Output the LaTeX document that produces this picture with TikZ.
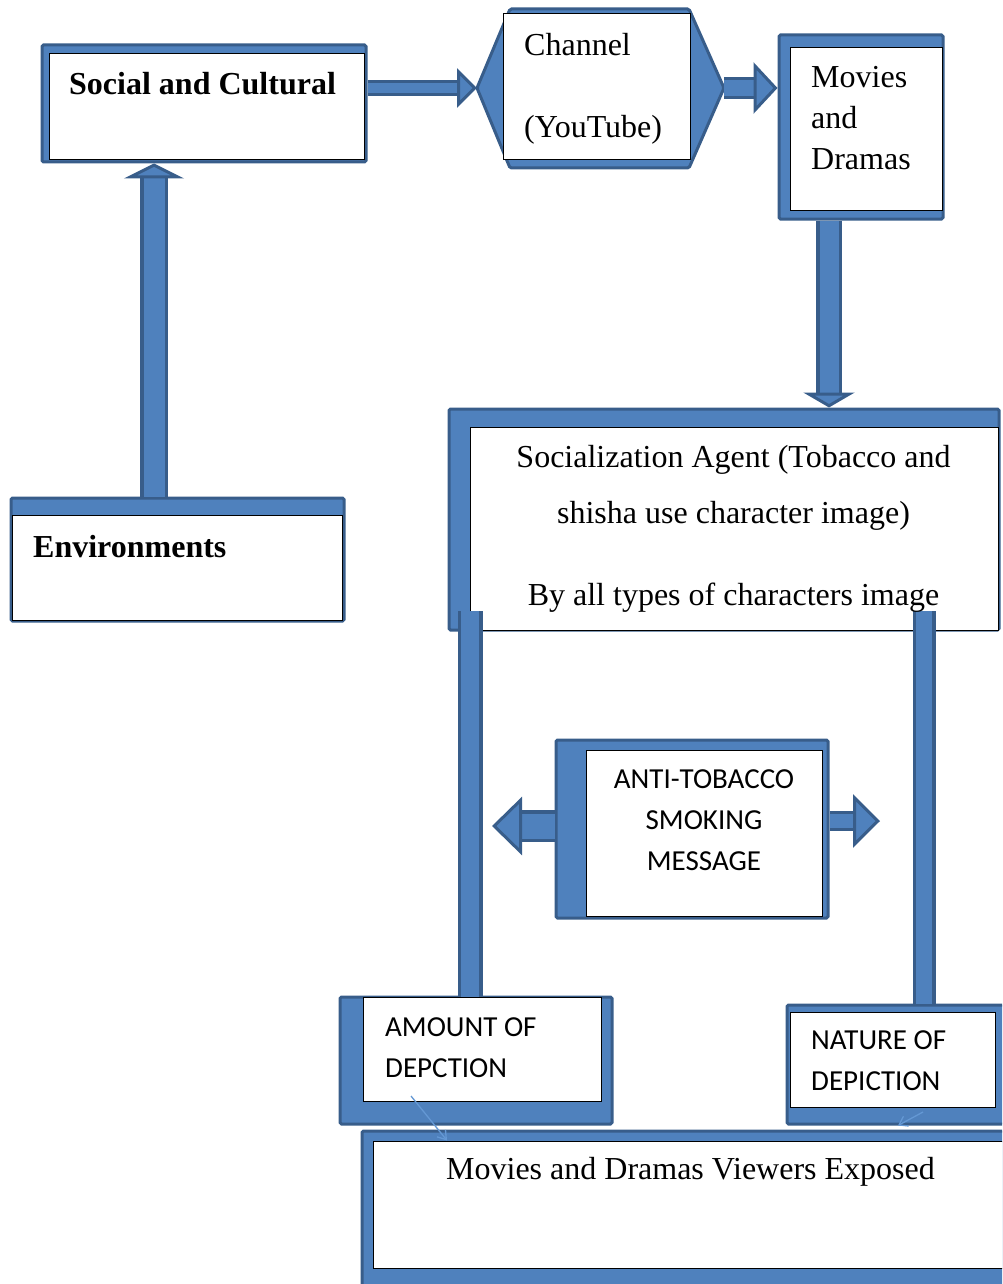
\documentclass[tikz,border=0pt]{standalone}
\usepackage{fontspec}
\setmainfont{Liberation Serif}
\newfontfamily\calibri{Carlito}
\usetikzlibrary{arrows.meta,positioning}
\definecolor{fillblue}{RGB}{79,129,189}
\definecolor{edgeblue}{RGB}{56,93,138}
\definecolor{lineblue}{RGB}{100,152,212}
\tikzset{
  panel/.style={draw=edgeblue,fill=fillblue,line width=3pt,rounded corners=1.5pt,inner sep=0pt},
  card/.style={draw=black,fill=white,line width=1pt,inner sep=0pt},
  txt/.style={inner sep=0pt,font=\fontsize{32}{41}\selectfont},
  sans/.style={inner sep=0pt,font=\calibri\fontsize{29}{41}\selectfont},
  bar/.style 2 args={draw=fillblue,line width=#2,shorten <=3pt,
    preaction={draw=edgeblue,line width=#1}},
  blockarrow/.style n args={4}{draw=fillblue,line width=#2,
    -{Triangle[length=#4,width=#3,fill=fillblue,color=edgeblue,line width=3pt]},
    preaction={draw=edgeblue,line width=#1,-,shorten >=#4}},
  pointer/.style={draw=lineblue,line width=1.3pt,-{Straight Barb[length=8pt,width=11pt]}}
}
\begin{document}
\begin{tikzpicture}[x=1pt,y=-1pt]
\useasboundingbox (0,0) rectangle (1002,1284);
\clip (0,0) rectangle (1002,1284);
\node[panel,minimum width=324pt,minimum height=117pt] (socB) at (204,103.5) {};
\node[card,minimum width=315pt,minimum height=106pt] (soc) at (206.5,107) {};
\draw[panel] (477,88) -- (510,9) -- (689,9) -- (724,88) -- (689,168) -- (510,168) -- cycle;
\coordinate (chanL) at (477,88);
\coordinate (chanR) at (724,88);
\node[card,minimum width=187pt,minimum height=146pt] (chan) at (596.5,87) {};
\node[panel,minimum width=164pt,minimum height=184pt] (movB) at (861,127) {};
\node[card,minimum width=152pt,minimum height=162pt] (mov) at (866,129) {};
\node[panel,minimum width=333pt,minimum height=123pt] (envB) at (177.5,559.5) {};
\node[card,minimum width=330pt,minimum height=105pt] (env) at (177,567.5) {};
\node[panel,minimum width=550pt,minimum height=221pt] (ageB) at (724,519.5) {};
\node[card,minimum width=528pt,minimum height=203pt] (age) at (734,528.5) {};
\node[panel,minimum width=272pt,minimum height=178pt] (antiB) at (692,829) {};
\node[card,minimum width=236pt,minimum height=166pt] (anti) at (704,833) {};
\node[panel,minimum width=272pt,minimum height=127pt] (amtB) at (476,1060.5) {};
\node[card,minimum width=238pt,minimum height=104pt] (amt) at (482,1049) {};
\node[panel,minimum width=223pt,minimum height=119pt] (natB) at (898.5,1064.5) {};
\node[card,minimum width=205pt,minimum height=95pt] (nat) at (892.5,1059.5) {};
\node[panel,minimum width=648pt,minimum height=164pt] (viewB) at (686,1213) {};
\node[card,minimum width=637pt,minimum height=127pt] (view) at (691.5,1204.5) {};
\coordinate (msgL) at (492,826);
\coordinate (msgR) at (880,821);
\coordinate (barL) at (470,608);
\coordinate (barR) at (924,608);
\coordinate (amtP) at (411,1096);
\coordinate (natP) at (923,1112);
\draw[blockarrow={16pt}{10pt}{39pt}{20pt}] (socB.east |- chanL) -- (chanL);
\draw[blockarrow={22pt}{16pt}{51pt}{24pt}] (chanR) -- (chanR -| movB.west);
\draw[blockarrow={26pt}{19pt}{51pt}{15pt}] ([xshift=-32pt]movB.south) -- ([xshift=-32pt]movB.south |- ageB.north);
\draw[blockarrow={28pt}{21pt}{60pt}{15pt}] ([xshift=-23.5pt]envB.north) -- ([xshift=-23.5pt]envB.north |- socB.south);
\draw[blockarrow={32pt}{25pt}{58pt}{30pt}] (antiB.west |- msgL) -- (msgL);
\draw[blockarrow={20pt}{14pt}{53pt}{27pt}] (antiB.east |- msgR) -- (msgR);
\draw[bar={25pt}{18pt}] (barL) -- (barL |- amt.north);
\draw[bar={23pt}{16pt}] (barR) -- (barR |- natB.north);
\draw[pointer] (amtP) -- (view.north -| 447,0);
\draw[pointer] (natP) -- (natB.south -| 898,0);
\node[txt,anchor=base west] (socT) at (69,95) {\textbf{Social and Cultural}};
\node[txt,anchor=north west,align=left] (chanT) at (524,33) {Channel\\[41pt](YouTube)};
\node[txt,anchor=north west,align=left] (movT) at (811,66) {Movies\\and\\Dramas};
\node[txt,anchor=base west] (envT) at (33,557) {\textbf{Environments}};
\node[txt,anchor=north,align=center,font=\fontsize{32}{56}\selectfont] (ageT) at (733.5,445)
  {Socialization Agent (Tobacco and\\shisha use character image)\\[26pt]By all types of characters image};
\node[sans,anchor=north,align=center] (antiT) at (704,769.5) {ANTI-TOBACCO\\SMOKING\\MESSAGE};
\node[sans,anchor=north west,align=left] (amtT) at (385,1017.5) {AMOUNT OF\\DEPCTION};
\node[sans,anchor=north west,align=left] (natT) at (811,1030.5) {NATURE OF\\DEPICTION};
\node[txt,anchor=base] (viewT) at (690.5,1179) {Movies and Dramas Viewers Exposed};
\end{tikzpicture}
\end{document}
